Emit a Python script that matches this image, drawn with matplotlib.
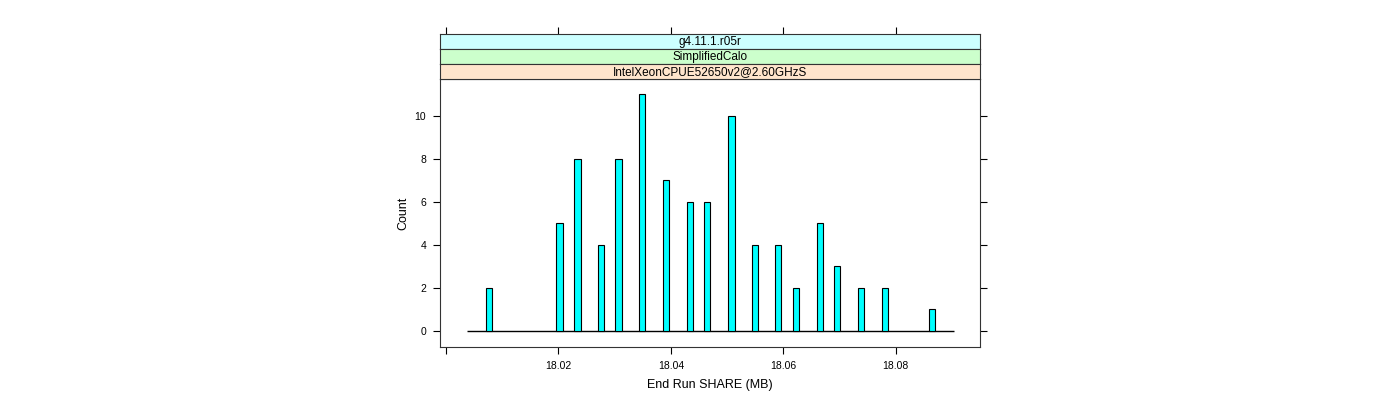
import matplotlib
matplotlib.use("Agg")
from matplotlib import pyplot as plt

plt.rcParams['font.family'] = ['Liberation Sans', 'DejaVu Sans']

# bin centres (MB) and counts
share_mb = [18.0076, 18.0202, 18.0234, 18.0276, 18.0307, 18.0349, 18.0392,
            18.0434, 18.0465, 18.0508, 18.0549, 18.0591, 18.0623, 18.0665,
            18.0696, 18.0738, 18.0781, 18.0865]
counts = [2, 5, 8, 4, 8, 11, 7, 6, 6, 10, 4, 4, 2, 5, 3, 2, 2, 1]
bin_width = 0.0011
hist_range = (18.0038, 18.0903)

strips = ["g4.11.1.r05r", "SimplifiedCalo", "IntelXeonCPUE52650v2@2.60GHzS"]
strip_cols = ["#ccffff", "#ccffcc", "#ffe5cc"]

xticks = [18.00, 18.02, 18.04, 18.06, 18.08]
xticklabels = ["", "18.02", "18.04", "18.06", "18.08"]
yticks = [0, 2, 4, 6, 8, 10]

W, H = 1400, 400
fig = plt.figure(figsize=(W / 100, H / 100), dpi=100)

def box(l, t, r, b):
    return [l / W, 1 - b / H, (r - l) / W, (b - t) / H]

ax = fig.add_axes(box(440, 79, 980, 347))
ax.set_xlim(17.99893, 18.0950)
ax.set_ylim(-0.75, 11.72)

ax.hlines(0, hist_range[0], hist_range[1], color="black", lw=1.0, zorder=1)
ax.bar(share_mb, counts, width=bin_width, color="#00ffff",
       edgecolor="black", linewidth=0.8, zorder=2)

ax.set_xticks(xticks)
ax.set_xticklabels(xticklabels)
ax.set_yticks(yticks)
ax.tick_params(axis="both", direction="out", length=5, width=0.8,
               labelsize=7.5, colors="black", pad=5)
ax.tick_params(axis="y", right=True, labelright=False)
ax.set_xlabel("End Run SHARE (MB)", fontsize=9, labelpad=6)
ax.set_ylabel("Count", fontsize=9, labelpad=4)
for s in ax.spines.values():
    s.set_linewidth(0.8)
    s.set_color("#333333")

# strips stacked above the panel, outermost on top
for i, (label, col) in enumerate(zip(strips, strip_cols)):
    top = 34 + 15 * i
    sax = fig.add_axes(box(440, top, 980, top + 15), sharex=ax)
    sax.set_facecolor(col)
    sax.set_ylim(0, 1)
    sax.set_yticks([])
    sax.text(0.5, 0.45, label, transform=sax.transAxes, ha="center",
             va="center", fontsize=8.5)
    for s in sax.spines.values():
        s.set_linewidth(0.8)
        s.set_color("#333333")
    if i == 0:
        sax.tick_params(axis="x", top=True, bottom=False, labelbottom=False,
                        labeltop=False, direction="out", length=5, width=0.8)
    else:
        sax.tick_params(axis="x", top=False, bottom=False,
                        labelbottom=False)

fig.savefig("out.png", dpi=100)
